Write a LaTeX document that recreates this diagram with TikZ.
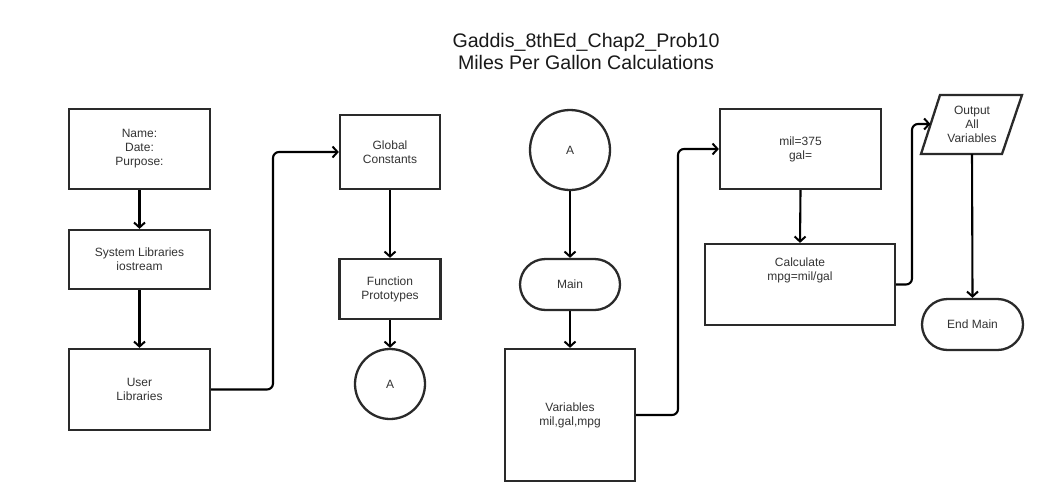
\documentclass[tikz,border=0pt]{standalone}
\usepackage{fontspec}
\setmainfont{Liberation Sans}
\usetikzlibrary{arrows.meta,shapes.misc}
\definecolor{txt}{HTML}{333333}
\definecolor{edgec}{HTML}{2A2A2A}
\begin{document}
\begin{tikzpicture}[x=1pt,y=-1pt,
  lbl/.style={text=txt,font=\fontsize{12}{14}\selectfont,align=center,inner sep=0pt},
  box/.style={lbl,draw=edgec,line width=2.3pt,fill=white,rectangle},
  term/.style={box,rounded rectangle},
  conn/.style={box,circle},
  flow/.style={draw=black,line width=2.1pt,rounded corners=6pt,
    -{Straight Barb[length=5pt,width=11pt,line width=2pt]}},
]
\useasboundingbox[fill=white] (0,0) rectangle (1048,501);

% title
\node[lbl,text=black!90,font=\fontsize{19.6}{22}\selectfont] (title) at (586,51)
  {Gaddis\_8thEd\_Chap2\_Prob10\\Miles Per Gallon Calculations};

% left column
\node[box,minimum width=141pt,minimum height=80pt] (hdr) at (139.5,149) {Name:\\Date:\\Purpose:};
\node[box,minimum width=141pt,minimum height=59pt] (sys) at (139.5,259.5) {System Libraries\\iostream};
\node[box,minimum width=141pt,minimum height=81pt] (usr) at (139.5,389.5) {User\\Libraries};

% second column
\node[box,minimum width=100pt,minimum height=74pt] (glob) at (390,152) {Global\\Constants};
\node[box,minimum width=101pt,minimum height=60pt] (proto) at (390,289) {Function\\Prototypes};
\node[conn,minimum size=70pt] (a1) at (390,384) {A};

% third column
\node[conn,minimum size=80pt] (a2) at (570,150) {A};
\node[term,minimum width=100pt,minimum height=51pt] (main) at (570,284.5) {Main};
\node[box,minimum width=130pt,minimum height=132pt] (vars) at (570,415) {Variables\\mil,gal,mpg};

% fourth column
\node[box,minimum width=161pt,minimum height=80pt] (mil) at (800.5,149) {mil=375\\gal=};
\node[box,minimum width=190pt,minimum height=81pt] (calc) at (800,284.5) {};
\node[lbl] (calct) at (800,270.5) {Calculate\\mpg=mil/gal};

% output parallelogram
\coordinate (o1) at (940,95);
\coordinate (o2) at (1022,95);
\coordinate (o3) at (1002,154);
\coordinate (o4) at (921,154);
\draw[draw=edgec,line width=2.3pt,fill=white,line join=miter] (o1) -- (o2) -- (o3) -- (o4) -- cycle;
\node[lbl] (out) at (972,124.5) {Output\\All\\Variables};
\coordinate (outin) at (930.5,124);
\coordinate (outbot) at (972,154);
\node[term,minimum width=101pt,minimum height=51pt] (endm) at (972.5,324.5) {End Main};

% connectors
\draw[flow] (hdr.south) -- (sys.north);
\draw[flow] (sys.south) -- (usr.north);
\draw[flow] (usr.east) -- (273,389.5) |- (glob.west);
\draw[flow] (glob.south) -- (proto.north);
\draw[flow] (proto.south) -- (a1.north);
\draw[flow] (a2.south) -- (main.north);
\draw[flow] (main.south) -- (vars.north);
\draw[flow] (vars.east) -- (678,415) |- (mil.west);
\draw[flow] (mil.south) -- (calc.north);
\draw[flow] (calc.east) -- (912,284.5) |- (outin);
\draw[flow] (outbot) -- (endm.north);
\end{tikzpicture}
\end{document}
